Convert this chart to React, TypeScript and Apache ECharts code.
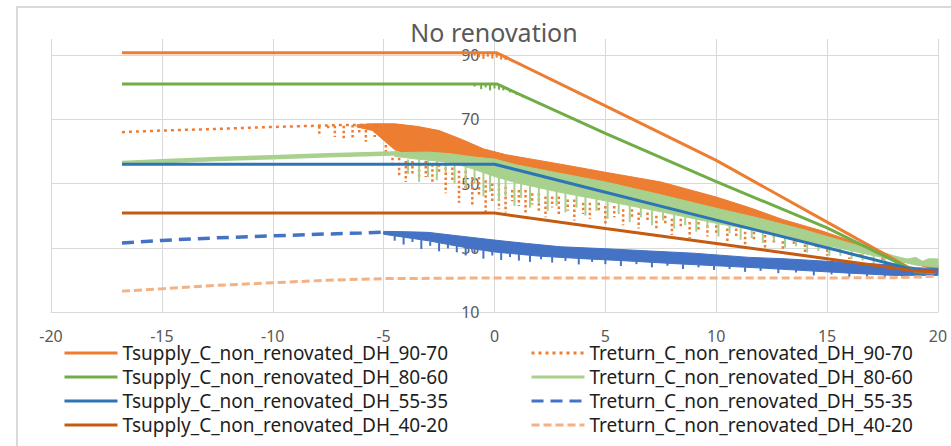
import React, { useEffect, useRef } from "react";
import * as echarts from "echarts";

const TITLE = "No renovation";
const X_TICKS = [-20, -15, -10, -5, 0, 5, 10, 15, 20];
const Y_TICKS = [10, 30, 50, 70, 90];
const Y_MAX = 95;

const N_S90 = "Tsupply_C_non_renovated_DH_90-70";
const N_S80 = "Tsupply_C_non_renovated_DH_80-60";
const N_S55 = "Tsupply_C_non_renovated_DH_55-35";
const N_S40 = "Tsupply_C_non_renovated_DH_40-20";
const N_R90 = "Treturn_C_non_renovated_DH_90-70";
const N_R80 = "Treturn_C_non_renovated_DH_80-60";
const N_R55 = "Treturn_C_non_renovated_DH_55-35";
const N_R40 = "Treturn_C_non_renovated_DH_40-20";

// Supply temperature curves [outdoor temp, temp]
const S90 = [[-16.8, 90.7], [0.1, 90.7], [5, 74.2], [10, 57.2], [15, 38.0], [19, 22.6], [19.9, 22.3]];
const S90_NOISE = [[-0.9, 90.7, 89.9], [-0.7, 90.7, 89.3], [-0.5, 90.7, 88.8], [-0.3, 90.7, 89.5], [-0.1, 90.7, 88.9], [0.1, 90.6, 89.2], [0.3, 90.0, 88.6], [0.5, 89.4, 88.5], [0.8, 88.5, 87.8]];
const S80 = [[-16.8, 81.0], [0.1, 81.0], [5, 65.6], [10, 50.6], [15, 36.2], [19, 22.6], [19.9, 22.4]];
const S80_NOISE = [[-0.9, 81.0, 80.2], [-0.6, 81.0, 79.4], [-0.4, 81.0, 79.9], [-0.2, 81.0, 79.0], [0.0, 81.0, 79.6], [0.2, 80.7, 79.2], [0.4, 80.1, 79.0], [0.7, 79.2, 78.4], [1.0, 78.3, 77.6], [1.3, 77.3, 76.8]];
const S55 = [[-16.8, 56.0], [0, 56.0], [5, 47.3], [10, 38.6], [15, 30.0], [19, 23.0], [19.9, 22.5]];
const S40 = [[-16.8, 40.8], [0, 40.8], [5, 36.0], [10, 31.3], [15, 26.6], [19, 22.8], [19.9, 22.5]];

// Return 90-70: sparse dotted part, dense band, scattered streaks [x, top, bottom]
const R90_LINE = [[-16.8, 66.0], [-15, 66.5], [-13, 66.9], [-11, 67.4], [-9, 67.8], [-7, 68.2], [-5.5, 68.3]];
const R90_UPPER = [[-6.2, 68.3], [-5.5, 68.6], [-4.5, 68.6], [-3.5, 67.8], [-2.5, 66.5], [-1.5, 63.8], [-0.5, 60.8], [0.5, 59.0], [1.5, 57.8], [3, 56.0], [5, 53.5], [7.5, 50.5], [10, 45.8], [11.5, 42.5], [13, 38.8], [14.7, 35.4], [16.9, 30.2], [18.3, 26.6], [19.2, 25.8], [20, 24.6]];
const R90_LOWER = [[-6.2, 67.6], [-5.5, 66.5], [-5, 63.5], [-4.5, 60.5], [-4, 59.2], [-3, 59.0], [-2, 58.5], [-1, 57.5], [0, 56.7], [1, 55.0], [3, 52.3], [5, 49.7], [7.5, 45.7], [10, 41.5], [12, 38.3], [14, 34.7], [16, 30.7], [18, 26.7], [20, 23.0]];
const R90_STREAKS = [
  [-7.9, 67.8, 65.5], [-7.5, 68.0, 66.5], [-7.2, 68.0, 64.5], [-6.8, 68.0, 63.5], [-6.4, 68.2, 64.0], [-6.1, 68.2, 65.5], [-5.8, 68.2, 63.0], [-5.4, 68.2, 64.5],
  [-4.9, 62, 59], [-4.6, 58, 55], [-4.3, 58, 52.5], [-4.0, 57, 50.5], [-3.7, 57, 53], [-3.4, 56, 51.5], [-3.1, 57, 52], [-2.8, 56, 50], [-2.5, 56, 53],
  [-2.2, 55, 47], [-1.9, 55, 50.5], [-1.6, 54, 44], [-1.3, 54, 48], [-1.0, 52, 43], [-0.7, 52, 46.5], [-0.4, 51, 40.5], [-0.1, 50, 44], [0.2, 50, 42],
  [0.5, 49, 41], [0.8, 48, 44.5], [1.1, 48, 43], [1.4, 48, 40.5], [1.7, 47, 43.5], [2.0, 47, 41], [2.3, 46, 39.5], [2.6, 46, 42.5], [2.9, 46, 40],
  [3.3, 45, 41.5], [3.6, 45, 38.5], [4.0, 44, 40.5], [4.3, 44, 39], [4.7, 44, 41], [5.0, 43, 37.5], [5.4, 43, 39.5], [5.8, 42, 37], [6.2, 42, 39],
  [6.5, 41, 36], [6.9, 41, 38], [7.3, 40, 35.5], [7.7, 40, 37.5], [8.0, 39, 34], [8.4, 39, 36.5], [8.8, 38, 33], [9.2, 38, 35], [9.6, 37, 33.5],
  [10.0, 37, 34.5], [10.5, 36, 32], [10.9, 36, 33.5], [11.3, 35, 31], [11.7, 35, 32.5], [12.2, 34, 29.5], [12.6, 34, 31.5], [13.0, 32, 29],
  [13.5, 32, 30.5], [14.0, 31, 28], [14.5, 31, 29.5], [15.0, 29.5, 27.5], [15.5, 29.5, 28], [16.0, 28.5, 26.5], [16.5, 28, 27], [17.0, 27, 25.5], [17.5, 27, 26]
];

// Return 80-60: thick line, solid band, downward spikes [x, top, bottom]
const R80_LINE = [[-16.8, 56.4], [-15, 56.9], [-12.5, 57.6], [-10, 58.2], [-7.5, 58.8], [-5, 59.3], [-4.3, 59.4]];
const R80_UPPER = [[-4.5, 59.6], [-3, 59.8], [-2, 59.3], [-1, 58.3], [0, 57.6], [1, 55.8], [3, 53.1], [5, 50.5], [7.5, 46.5], [10, 42.3], [12, 39.1], [14, 35.5], [16, 31.5], [18, 27.5], [18.6, 26.5], [19, 27.0], [19.3, 25.8], [19.6, 26.6], [20, 26.5]];
const R80_LOWER = [[-4.5, 58.5], [-3.5, 57.6], [-2, 56.6], [-1, 54.6], [0, 52.2], [1, 50.2], [3, 47.2], [5, 44.6], [7.5, 41.2], [10, 37.6], [12, 35.2], [14, 32.2], [16, 29.2], [18, 26.2], [19, 24.6], [20, 24.0]];
const R80_SPIKES = [
  [-3.9, 57.5, 53], [-3.4, 57.4, 50.5], [-3.0, 57.2, 52], [-2.6, 57.0, 51], [-2.2, 56.8, 53.5], [-1.8, 56.3, 50], [-1.3, 55.4, 48.5],
  [-0.9, 54.4, 50], [-0.5, 53.5, 46], [-0.2, 52.8, 47.5], [0.2, 51.8, 44.5], [0.5, 51.2, 46], [0.9, 50.4, 43], [1.2, 49.9, 45.5],
  [1.6, 49.3, 42.5], [2.0, 48.7, 44], [2.4, 48.1, 41.5], [2.8, 47.5, 43], [3.2, 46.9, 41], [3.7, 46.3, 42.5], [4.1, 45.8, 40],
  [4.6, 45.1, 41.5], [5.1, 44.4, 39], [5.6, 43.8, 40.5], [6.1, 43.1, 38], [6.6, 42.4, 39.5], [7.1, 41.7, 37], [7.6, 41.0, 38.5],
  [8.1, 40.3, 36], [8.6, 39.6, 37], [9.1, 38.9, 35], [9.6, 38.2, 36], [10.1, 37.5, 33.5], [10.6, 36.8, 34.5], [11.1, 36.2, 32.5],
  [11.6, 35.6, 33], [12.1, 35.0, 31.5], [12.6, 34.3, 32], [13.1, 33.5, 30], [13.6, 32.8, 30.5], [14.1, 32.0, 28.5], [14.6, 31.3, 29],
  [15.1, 30.5, 27.5], [15.6, 29.8, 27.5], [16.1, 29.0, 26.5], [16.6, 28.3, 26], [17.1, 27.5, 25], [17.6, 26.8, 24.5], [18.1, 26.0, 24]
];

// Return 55-35: dashed line, solid band, downward spikes
const R55_LINE = [[-16.8, 31.5], [-15, 32.3], [-12.5, 33.1], [-10, 33.7], [-8, 34.2], [-6, 34.6], [-5, 34.9]];
const R55_UPPER = [[-5, 35.1], [-4, 35.0], [-3, 34.8], [-2, 34.0], [-1, 33.2], [0, 32.4], [1.5, 31.3], [3, 30.3], [5, 29.7], [7, 29.0], [9, 28.3], [11.5, 27.0], [13, 26.6], [15, 25.8], [16.5, 25.2], [18.3, 24.5], [19, 23.8], [20, 23.5]];
const R55_LOWER = [[-5, 34.2], [-4, 33.2], [-3, 32.2], [-2, 30.9], [-1, 29.7], [0, 28.7], [2, 27.4], [4, 26.6], [6, 25.9], [8, 25.1], [10, 24.4], [12, 23.7], [14, 22.9], [16, 22.1], [18, 21.4], [20, 21.4]];
const R55_SPIKES = [
  [-4.5, 33.7, 32.2], [-4.1, 33.3, 31.0], [-3.7, 32.9, 31.8], [-3.3, 32.5, 29.6], [-2.9, 32.0, 30.6], [-2.5, 31.6, 28.9], [-2.1, 31.1, 29.8],
  [-1.7, 30.6, 28.6], [-1.3, 30.1, 27.6], [-0.9, 29.6, 28.4], [-0.5, 29.2, 26.6], [-0.1, 28.8, 27.6], [0.3, 28.5, 26.2], [0.7, 28.2, 27.1],
  [1.1, 27.9, 26.0], [1.6, 27.7, 25.6], [2.1, 27.4, 26.4], [2.6, 27.2, 25.4], [3.2, 26.9, 25.9], [3.8, 26.7, 24.8], [4.4, 26.5, 25.6],
  [5.0, 26.3, 24.9], [5.7, 26.0, 24.3], [6.4, 25.8, 24.9], [7.1, 25.5, 23.9], [7.8, 25.2, 24.4], [8.5, 24.9, 23.4], [9.2, 24.7, 23.9],
  [9.9, 24.4, 23.1], [10.6, 24.2, 23.4], [11.3, 23.9, 22.5], [12.0, 23.7, 22.8], [12.8, 23.4, 22.1], [13.6, 23.1, 22.3], [14.4, 22.8, 21.4],
  [15.2, 22.5, 21.7], [16.0, 22.1, 20.9], [16.8, 21.8, 21.1], [17.6, 21.5, 20.7], [18.4, 21.4, 20.6], [19.2, 21.4, 20.5]
];

// Return 40-20
const R40 = [[-16.8, 16.5], [-15, 17.2], [-12.5, 18.3], [-10, 19.1], [-7.5, 19.9], [-5, 20.4], [-2.5, 20.5], [0, 20.6], [5, 20.6], [10, 20.6], [15, 20.6], [18, 20.7], [19, 20.9], [20, 21.2]];

const C_ORANGE = "#ED7D31";
const C_GREEN = "#70AD47";
const C_LGREEN = "#A9D18E";
const C_BLUE = "#2E75B6";
const C_BLUE2 = "#4472C4";
const C_DORANGE = "#C55A11";
const C_LORANGE = "#F4B183";
const FONT = "Noto Sans";

function lineSeries(name: string, data: number[][], color: string, width: number, type: any) {
  return {
    name,
    type: "line",
    data,
    symbol: "none",
    showSymbol: false,
    lineStyle: { color, width, type },
    itemStyle: { color },
    silent: true,
  };
}

function bandSeries(name: string, upper: number[][], lower: number[][], color: string) {
  return {
    name,
    type: "custom",
    data: [[upper[0][0], upper[0][1]]],
    encode: { x: 0, y: 1 },
    silent: true,
    renderItem: (params: any, api: any) => {
      const pts = upper.map((p) => api.coord(p)).concat(lower.slice().reverse().map((p) => api.coord(p)));
      return { type: "polygon", shape: { points: pts }, style: { fill: color, stroke: color, lineWidth: 1 } };
    },
  };
}

function streakSeries(name: string, data: number[][], color: string, width: number, dash: number[] | null) {
  return {
    name,
    type: "custom",
    data,
    encode: { x: 0, y: [1, 2] },
    silent: true,
    renderItem: (params: any, api: any) => {
      const x = api.value(0);
      const p1 = api.coord([x, api.value(1)]);
      const p2 = api.coord([x, api.value(2)]);
      const style: any = { stroke: color, lineWidth: width };
      if (dash) style.lineDash = dash;
      return {
        type: "line",
        shape: { x1: p1[0], y1: p1[1], x2: p2[0], y2: p2[1] },
        style,
      };
    },
  };
}

export default function App() {
  const ref = useRef<HTMLDivElement>(null);
  useEffect(() => {
    if (!ref.current) return;
    const chart = echarts.init(ref.current, null, { renderer: "svg" });
    const xInt = X_TICKS[1] - X_TICKS[0];
    const yInt = Y_TICKS[1] - Y_TICKS[0];
    const legendText = { fontSize: 19, color: "#1e1e1e", fontFamily: FONT, lineHeight: 20 };
    const legendBase = {
      orient: "vertical",
      top: 343,
      padding: 0,
      itemGap: 4,
      itemWidth: 53,
      itemHeight: 14,
      selectedMode: false,
      textStyle: legendText,
      itemStyle: { opacity: 0, borderWidth: 0 },
      lineStyle: { width: 3 },
    };
    chart.setOption({
      animation: false,
      title: {
        text: TITLE,
        left: 494,
        top: 19,
        padding: 0,
        textAlign: "center",
        textStyle: { fontSize: 25, fontWeight: "normal", color: "#595959", fontFamily: FONT },
      },
      graphic: [
        {
          type: "rect",
          shape: { x: 17, y: 7, width: 980, height: 480 },
          style: { fill: "none", stroke: "#d9d9d9", lineWidth: 2 },
          silent: true,
          z: -10,
        },
      ],
      grid: { left: 51, right: 13, top: 39, bottom: 134, containLabel: false },
      xAxis: {
        type: "value",
        min: X_TICKS[0],
        max: X_TICKS[X_TICKS.length - 1],
        interval: xInt,
        axisLine: { show: true, onZero: false, lineStyle: { color: "#d9d9d9", width: 1 } },
        axisTick: { show: false },
        splitLine: { show: true, lineStyle: { color: "#d9d9d9", width: 1 } },
        axisLabel: { color: "#595959", fontSize: 16, lineHeight: 14, margin: 17, fontFamily: FONT },
      },
      yAxis: {
        type: "value",
        min: Y_TICKS[0],
        max: Y_MAX,
        interval: yInt,
        position: "left",
        offset: -443.5,
        axisLine: { show: true, onZero: false, lineStyle: { color: "#d9d9d9", width: 1 } },
        axisTick: { show: false },
        splitLine: { show: true, showMaxLine: false, lineStyle: { color: "#d9d9d9", width: 1 } },
        axisLabel: {
          color: "#595959",
          fontSize: 16,
          margin: 15,
          fontFamily: FONT,
          showMaxLabel: false,
          formatter: (v: number) => (Y_TICKS.includes(v) ? String(v) : ""),
        },
      },
      legend: [
        { ...legendBase, left: 63, data: [N_S90, N_S80, N_S55, N_S40] },
        { ...legendBase, left: 530, data: [N_R90, N_R80, N_R55, N_R40] },
      ],
      series: [
        lineSeries(N_S90, S90, C_ORANGE, 3, "solid"),
        streakSeries("s90noise", S90_NOISE, C_ORANGE, 2, null),
        lineSeries(N_R90, R90_LINE, C_ORANGE, 2.5, [3, 4]),
        bandSeries("r90band", R90_UPPER, R90_LOWER, C_ORANGE),
        streakSeries("r90streaks", R90_STREAKS, C_ORANGE, 2.5, [2.5, 2.5]),
        lineSeries(N_S80, S80, C_GREEN, 3, "solid"),
        streakSeries("s80noise", S80_NOISE, C_GREEN, 2, null),
        lineSeries(N_R80, R80_LINE, C_LGREEN, 4.5, "solid"),
        bandSeries("r80band", R80_UPPER, R80_LOWER, C_LGREEN),
        streakSeries("r80spikes", R80_SPIKES, C_LGREEN, 2, null),
        lineSeries(N_S55, S55, C_BLUE, 3, "solid"),
        lineSeries(N_R55, R55_LINE, C_BLUE2, 3.5, [12, 7]),
        bandSeries("r55band", R55_UPPER, R55_LOWER, C_BLUE2),
        streakSeries("r55spikes", R55_SPIKES, C_BLUE2, 2, null),
        lineSeries(N_S40, S40, C_DORANGE, 3, "solid"),
        lineSeries(N_R40, R40, C_LORANGE, 3, [8, 4]),
      ],
    });
    return () => chart.dispose();
  }, []);
  return <div ref={ref} style={{ position: "fixed", left: 0, top: 0, width: 951, height: 446, background: "#fff" }} />;
}
